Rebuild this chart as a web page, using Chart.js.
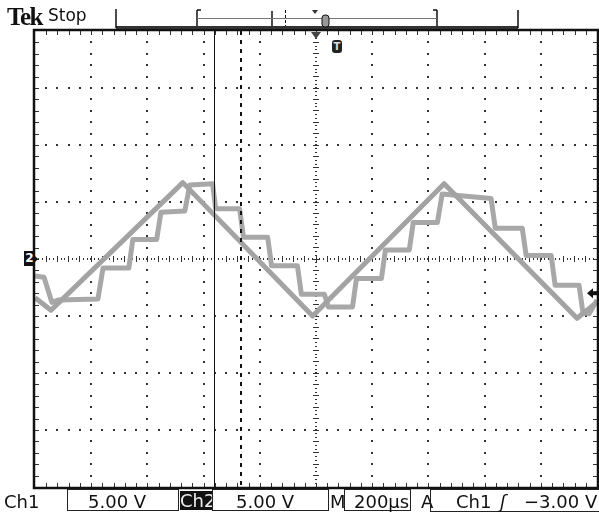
<!DOCTYPE html>
<html>
<head>
<meta charset="utf-8">
<script src="https://cdn.jsdelivr.net/npm/chart.js@4.4.1/dist/chart.umd.min.js"></script>
<style>
  body { margin: 0; background: #fff; }
  #wrap { position: relative; width: 599px; height: 512px; overflow: hidden; font-family: "DejaVu Sans", sans-serif; color: #111; }
  canvas { position: absolute; left: 0; top: 0; }
  .lbl { position: absolute; white-space: nowrap; line-height: 1; }
  .box { position: absolute; border: 1px solid #222; box-sizing: border-box; }
</style>
</head>
<body>
<div id="wrap">
  <canvas id="scope" width="599" height="512"></canvas>

  <div class="lbl" style="left:7px;top:3px;font:bold 25px 'Liberation Serif',serif;letter-spacing:-1.5px">Tek</div>
  <div class="lbl" style="left:48px;top:7px;font-size:17px">Stop</div>

  <div class="lbl" style="left:24px;top:251px;width:11px;height:15px;background:#111;color:#fff;font:bold 12px 'DejaVu Sans';text-align:center;line-height:15px">2</div>
  <div class="lbl" style="left:332px;top:40px;width:10px;height:13px;background:#222;color:#ddd;font:bold 10px 'DejaVu Sans';text-align:center;line-height:13px;border-radius:3px">T</div>

  <div class="lbl" style="left:4px;top:493px;font-size:18px">Ch1</div>
  <div class="box" style="left:67px;top:489px;width:112px;height:22px"></div>
  <div class="lbl" style="left:88px;top:493px;font-size:18px">5.00 V</div>
  <div class="lbl" style="left:180px;top:491px;width:33px;height:19px;background:#111;color:#eee;font-size:18px;line-height:20px">Ch2</div>
  <div class="box" style="left:212px;top:489px;width:117px;height:22px"></div>
  <div class="lbl" style="left:236px;top:493px;font-size:18px">5.00 V</div>
  <div class="lbl" style="left:330px;top:493px;font-size:18px">M</div>
  <div class="box" style="left:344px;top:489px;width:67px;height:22px"></div>
  <div class="lbl" style="left:354px;top:493px;font-size:18px">200µs</div>
  <div class="lbl" style="left:421px;top:493px;font-size:18px">A</div>
  <div class="box" style="left:430px;top:489px;width:172px;height:23px"></div>
  <div class="lbl" style="left:456px;top:493px;font-size:18px">Ch1</div>
  <div class="lbl" style="left:500px;top:493px;font-size:18px;font-style:italic">ʃ</div>
  <div class="lbl" style="left:524px;top:493px;font-size:18px">−3.00 V</div>
</div>

<script>
// time in µs (200 µs/div, trigger at centre), volts (5 V/div)
const ch1Time  = [-1000, -943, -474, -12, 456, 929, 1000];
const ch1Volts = [-3.4, -4.5, 6.7, -5.0, 6.6, -5.2, -3.8];

const ch2Time  = [-1000, -968, -940, -918, -776, -758, -666, -652, -567, -552, -467, -449, -368,
                  -357, -272, -258, -172, -158, -66, -52, 30, 44, 130, 144, 233, 247, 332, 346,
                  432, 449, 623, 638, 734, 748, 837, 851, 936, 950, 972, 1000];
const ch2Volts = [-1.5, -1.6, -3.8, -3.6, -3.5, -0.8, -0.8, 1.7, 1.7, 4.1, 4.2, 6.5, 6.6,
                  4.4, 4.4, 1.9, 1.9, -0.6, -0.6, -3.1, -3.1, -4.2, -4.2, -1.7, -1.7, 0.8, 0.8, 3.2,
                  3.2, 5.7, 5.3, 2.7, 2.7, 0.3, 0.3, -2.3, -2.3, -4.7, -4.8, -3.6];

const timeDiv = 200, voltDiv = 5;
const timeRange = [-1000, 1000];
const voltRange = [-20, 20];
const cursorTimes = [-363, -267];
const triggerLevel = -3.0;

const canvas = document.getElementById('scope');
const ctx = canvas.getContext('2d');

const toPoints = (ts, vs) => ts.map((t, i) => ({ x: t, y: vs[i] }));

const graticule = {
  id: 'graticule',
  beforeDatasetsDraw(chart) {
    const { ctx, chartArea: a, scales: { x, y } } = chart;
    const dot = (px, py, w, h) => ctx.fillRect(Math.round(px - w / 2), Math.round(py - h / 2), w, h);
    ctx.save();
    ctx.fillStyle = '#333';
    const nx = (timeRange[1] - timeRange[0]) / timeDiv;
    const ny = (voltRange[1] - voltRange[0]) / voltDiv;
    // dotted grid lines
    for (let i = 1; i < nx; i++) {
      if (i === nx / 2) continue;
      const px = x.getPixelForValue(timeRange[0] + i * timeDiv);
      for (let j = 1; j < ny * 5; j++) dot(px, y.getPixelForValue(voltRange[0] + j * voltDiv / 5), 2, 2);
    }
    for (let i = 1; i < ny; i++) {
      if (i === ny / 2) continue;
      const py = y.getPixelForValue(voltRange[0] + i * voltDiv);
      for (let j = 1; j < nx * 5; j++) dot(x.getPixelForValue(timeRange[0] + j * timeDiv / 5), py, 2, 2);
    }
    // centre crosshair with minor ticks
    const cx = x.getPixelForValue(0), cy = y.getPixelForValue(0);
    for (let j = 1; j < nx * 15; j++) {
      const px = x.getPixelForValue(timeRange[0] + j * timeDiv / 15);
      dot(px, cy, 1, j % 3 === 0 ? 6 : 2);
    }
    for (let j = 1; j < ny * 15; j++) {
      const py = y.getPixelForValue(voltRange[0] + j * voltDiv / 15);
      dot(cx, py, j % 3 === 0 ? 6 : 2, 1);
    }
    // ticks inside the frame
    for (let j = 1; j < nx * 5; j++) {
      const px = Math.round(x.getPixelForValue(timeRange[0] + j * timeDiv / 5));
      ctx.fillRect(px, a.top, 1, 4);
      ctx.fillRect(px, a.bottom - 4, 1, 4);
    }
    for (let j = 1; j < ny * 5; j++) {
      const py = Math.round(y.getPixelForValue(voltRange[0] + j * voltDiv / 5));
      ctx.fillRect(a.left, py, 4, 1);
      ctx.fillRect(a.right - 4, py, 4, 1);
    }
    ctx.restore();
  },
  afterDatasetsDraw(chart) {
    const { ctx, chartArea: a, scales: { x, y } } = chart;
    ctx.save();
    // cursors
    ctx.strokeStyle = '#111';
    ctx.lineWidth = 1;
    let cx = Math.round(x.getPixelForValue(cursorTimes[0])) + 0.5;
    ctx.beginPath(); ctx.moveTo(cx, a.top); ctx.lineTo(cx, a.bottom); ctx.stroke();
    cx = Math.round(x.getPixelForValue(cursorTimes[1]));
    ctx.lineWidth = 2;
    ctx.setLineDash([4, 5]);
    ctx.beginPath(); ctx.moveTo(cx, a.top); ctx.lineTo(cx, a.bottom); ctx.stroke();
    ctx.setLineDash([]);

    // frame
    ctx.lineWidth = 2.5;
    ctx.strokeStyle = '#111';
    ctx.strokeRect(a.left - 1, a.top - 1, a.right - a.left + 2, a.bottom - a.top + 2);

    // record-length bar above the graticule
    ctx.fillStyle = '#333';
    ctx.fillRect(116, 26, 402, 3);
    ctx.lineWidth = 1.5;
    [[116, 9, 28], [518, 10, 28], [197, 10, 26], [437, 10, 26], [272, 11, 26]].forEach(([px, y0, y1]) => {
      ctx.beginPath(); ctx.moveTo(px, y0); ctx.lineTo(px, y1); ctx.stroke();
    });
    ctx.beginPath(); ctx.moveTo(197, 10); ctx.lineTo(201, 10); ctx.moveTo(437, 10); ctx.lineTo(433, 10); ctx.stroke();
    ctx.strokeStyle = '#777'; ctx.lineWidth = 1;
    ctx.beginPath(); ctx.moveTo(197, 18.5); ctx.lineTo(437, 18.5); ctx.stroke();
    ctx.strokeStyle = '#111';
    ctx.setLineDash([3, 2]);
    ctx.beginPath(); ctx.moveTo(285.5, 10); ctx.lineTo(285.5, 26); ctx.stroke();
    ctx.setLineDash([]);
    ctx.fillStyle = '#999';
    ctx.beginPath(); ctx.roundRect(322, 15, 7, 12, 3); ctx.fill(); ctx.stroke();
    ctx.fillStyle = '#333';
    ctx.beginPath(); ctx.moveTo(312, 10); ctx.lineTo(318, 10); ctx.lineTo(315, 14); ctx.fill();

    // trigger position marker
    const tx = x.getPixelForValue(0);
    ctx.fillStyle = '#444';
    ctx.beginPath(); ctx.moveTo(tx - 5, a.top + 1); ctx.lineTo(tx + 5, a.top + 1); ctx.lineTo(tx, a.top + 8); ctx.fill();

    // ch2 ground marker arrow
    const gy = y.getPixelForValue(0);
    ctx.fillStyle = '#111';
    ctx.beginPath(); ctx.moveTo(a.left - 1, gy - 4); ctx.lineTo(a.left + 3, gy); ctx.lineTo(a.left - 1, gy + 4); ctx.fill();

    // trigger level arrow (ch1)
    const ly = y.getPixelForValue(triggerLevel);
    ctx.beginPath(); ctx.moveTo(a.right - 10, ly); ctx.lineTo(a.right - 4, ly - 5); ctx.lineTo(a.right - 4, ly + 5); ctx.fill();
    ctx.fillRect(a.right - 5, ly - 2, 5, 4);
    ctx.restore();
  }
};

new Chart(ctx, {
  type: 'line',
  data: {
    datasets: [
      {
        label: 'Ch1',
        data: toPoints(ch1Time, ch1Volts),
        borderColor: '#a3a3a3',
        borderWidth: 5,
        pointRadius: 0,
        tension: 0,
        borderJoinStyle: 'round'
      },
      {
        label: 'Ch2',
        data: toPoints(ch2Time, ch2Volts),
        borderColor: '#a8a8a8',
        borderWidth: 5,
        pointRadius: 0,
        tension: 0,
        borderJoinStyle: 'round'
      }
    ]
  },
  options: {
    responsive: false,
    animation: false,
    devicePixelRatio: 1,
    layout: { padding: { left: 35, top: 31, right: 2, bottom: 25 } },
    plugins: {
      legend: { display: false },
      tooltip: { enabled: false }
    },
    scales: {
      x: { type: 'linear', min: timeRange[0], max: timeRange[1], display: false },
      y: { type: 'linear', min: voltRange[0], max: voltRange[1], display: false }
    }
  },
  plugins: [graticule]
});
</script>
</body>
</html>
